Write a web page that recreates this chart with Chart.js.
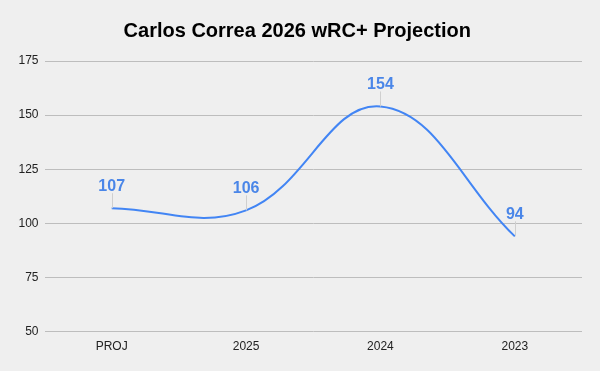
<!DOCTYPE html>
<html>
<head>
<meta charset="utf-8">
<script src="https://cdn.jsdelivr.net/npm/chart.js@4"></script>
<style>
  html, body { margin: 0; padding: 0; background: #efefef; }
  #wrap { width: 600px; height: 371px; }
</style>
</head>
<body>
<div id="wrap"><canvas id="grafico"></canvas></div>
<script>
const categorias = ['PROJ', '2025', '2024', '2023'];
const wrcPlus = [107, 106, 154, 94];
const ticksY = [50, 75, 100, 125, 150, 175];

// rótulos acima dos pontos com linha-guia fina
const rotulos = {
    id: 'rotulos',
    afterDatasetsDraw(chart) {
        const ctx = chart.ctx;
        const meta = chart.getDatasetMeta(0);
        ctx.save();
        meta.data.forEach(function(pt, i) {
            ctx.strokeStyle = '#cfcfcf';
            ctx.lineWidth = 1;
            ctx.beginPath();
            ctx.moveTo(Math.round(pt.x) + 0.5, pt.y);
            ctx.lineTo(Math.round(pt.x) + 0.5, pt.y - 15);
            ctx.stroke();
            ctx.fillStyle = '#4a86e8';
            ctx.font = 'bold 16px "Liberation Sans", Arial, sans-serif';
            ctx.textAlign = 'center';
            ctx.textBaseline = 'alphabetic';
            ctx.fillText(String(wrcPlus[i]), pt.x, pt.y - 17);
        });
        ctx.restore();
    }
};

new Chart(document.getElementById('grafico'), {
    type: 'line',
    data: {
        labels: categorias,
        datasets: [{
            data: wrcPlus,
            borderColor: '#4285f4',
            borderWidth: 2,
            pointRadius: 0,
            tension: 0.4,
            fill: false
        }]
    },
    options: {
        responsive: true,
        maintainAspectRatio: false,
        animation: false,
        layout: { padding: { left: 12.5, right: 18, top: 0, bottom: 9 } },
        plugins: {
            legend: { display: false },
            tooltip: { enabled: false },
            title: {
                display: true,
                text: 'Carlos Correa 2026 wRC+ Projection',
                color: '#000',
                font: { family: '"Liberation Sans", Arial, sans-serif', size: 20, weight: 'bold' },
                padding: { top: 19, bottom: 18 }
            }
        },
        scales: {
            x: {
                offset: true,
                grid: { display: false, drawTicks: false },
                border: { display: false },
                ticks: {
                    color: '#222',
                    font: { family: '"Liberation Sans", Arial, sans-serif', size: 12 },
                    padding: 8
                }
            },
            y: {
                min: 50,
                max: 175,
                afterBuildTicks: function(axis) {
                    axis.ticks = ticksY.map(function(v) { return { value: v }; });
                },
                grid: { color: '#bdbdbd', drawTicks: false },
                border: { display: false },
                ticks: {
                    color: '#222',
                    font: { family: '"Liberation Sans", Arial, sans-serif', size: 12 },
                    padding: 6
                }
            }
        }
    },
    plugins: [rotulos]
});
</script>
</body>
</html>
